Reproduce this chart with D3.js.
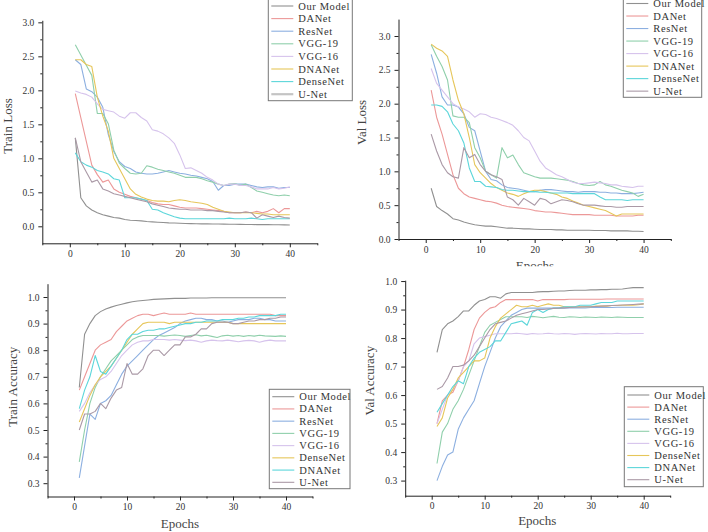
<!DOCTYPE html>
<html><head><meta charset="utf-8">
<script src="https://cdn.jsdelivr.net/npm/d3@7/dist/d3.min.js"></script>
<style>body{margin:0;background:#fff}svg{display:block}text{font-family:"Liberation Serif","DejaVu Serif",serif}</style>
</head><body>
<script>
const epochs = [1,2,3,4,5,6,7,8,9,10,11,12,13,14,15,16,17,18,19,20,21,22,23,24,25,26,27,28,29,30,31,32,33,34,35,36,37,38,39,40];
const xTicks = [0,10,20,30,40];
const xMinorTicks = [-5,5,15,25,35,45];
const lossTicks = [0,0.5,1,1.5,2,2.5,3];
const lossMinor = [0.25,0.75,1.25,1.75,2.25,2.75];
const accTicks = [0.3,0.4,0.5,0.6,0.7,0.8,0.9,1.0];
const accMinor = [0.35,0.45,0.55,0.65,0.75,0.85,0.95];
const lossLegend = ["Our Model","DANet","ResNet","VGG-19","VGG-16","DNANet","DenseNet","U-Net"];
const accLegend = ["Our Model","DANet","ResNet","VGG-19","VGG-16","DenseNet","DNANet","U-Net"];
const colors = ["#909090","#ec9898","#8cafe0","#8fcfab","#d6c3ec","#e6c65a","#5cd6da","#aa99a6"];

// Train loss (order: Our Model, DANet, ResNet, VGG-19, VGG-16, DNANet, DenseNet, U-Net)
const trainLossOurModel = [1.30,0.42,0.30,0.24,0.20,0.17,0.15,0.13,0.12,0.10,0.09,0.085,0.08,0.07,0.065,0.06,0.055,0.05,0.048,0.045,0.042,0.04,0.038,0.036,0.035,0.034,0.033,0.032,0.03,0.03,0.028,0.027,0.026,0.025,0.025,0.024,0.023,0.022,0.021,0.02];
const trainLossDANet = [1.95,1.60,1.25,0.90,0.76,0.65,0.68,0.55,0.50,0.47,0.44,0.42,0.40,0.38,0.35,0.33,0.32,0.32,0.30,0.28,0.27,0.27,0.27,0.26,0.25,0.24,0.23,0.22,0.20,0.20,0.20,0.21,0.20,0.22,0.20,0.22,0.26,0.20,0.26,0.26];
const trainLossResNet = [2.45,2.38,2.02,1.98,1.90,1.75,1.35,1.10,0.95,0.88,0.85,0.80,0.78,0.77,0.77,0.78,0.80,0.82,0.80,0.78,0.77,0.75,0.74,0.72,0.70,0.66,0.53,0.60,0.60,0.62,0.62,0.62,0.60,0.58,0.57,0.58,0.58,0.56,0.57,0.57];
const trainLossVGG19 = [2.67,2.52,2.37,2.22,1.66,1.66,1.51,1.12,0.93,0.85,0.78,0.77,0.78,0.89,0.87,0.84,0.82,0.80,0.78,0.75,0.72,0.72,0.72,0.70,0.67,0.65,0.62,0.60,0.62,0.63,0.60,0.62,0.57,0.52,0.50,0.48,0.46,0.45,0.46,0.45];
const trainLossVGG16 = [1.99,1.96,1.94,1.90,1.80,1.72,1.70,1.68,1.62,1.59,1.67,1.67,1.60,1.55,1.42,1.40,1.36,1.30,1.22,1.05,0.85,0.86,0.82,0.78,0.72,0.68,0.62,0.60,0.62,0.62,0.60,0.60,0.58,0.55,0.55,0.55,0.57,0.55,0.56,0.58];
const trainLossDNANet = [2.45,2.45,2.38,2.35,1.90,1.62,1.40,1.00,0.85,0.70,0.55,0.47,0.43,0.40,0.38,0.37,0.37,0.36,0.38,0.39,0.38,0.36,0.35,0.34,0.32,0.28,0.25,0.22,0.21,0.20,0.20,0.20,0.20,0.19,0.18,0.18,0.17,0.17,0.17,0.17];
const trainLossDenseNet = [1.08,0.95,0.90,0.87,0.82,0.80,0.77,0.70,0.68,0.42,0.42,0.42,0.40,0.38,0.25,0.24,0.20,0.17,0.14,0.12,0.11,0.11,0.11,0.11,0.11,0.11,0.11,0.11,0.12,0.11,0.11,0.11,0.12,0.11,0.10,0.11,0.11,0.11,0.11,0.11];
const trainLossUNet = [1.30,0.95,0.80,0.65,0.68,0.55,0.52,0.48,0.46,0.44,0.42,0.40,0.38,0.36,0.33,0.31,0.29,0.27,0.26,0.25,0.25,0.24,0.24,0.24,0.23,0.23,0.22,0.21,0.20,0.20,0.20,0.21,0.20,0.12,0.17,0.15,0.13,0.15,0.13,0.12];

// Val loss
const valLossOurModel = [0.75,0.48,0.42,0.37,0.30,0.28,0.25,0.23,0.21,0.20,0.19,0.19,0.18,0.17,0.16,0.16,0.155,0.15,0.15,0.145,0.14,0.14,0.14,0.135,0.135,0.13,0.13,0.13,0.13,0.13,0.125,0.125,0.125,0.12,0.12,0.12,0.12,0.115,0.115,0.11];
const valLossDANet = [2.20,1.80,1.55,1.25,0.95,0.75,0.67,0.62,0.60,0.58,0.56,0.55,0.53,0.50,0.48,0.47,0.46,0.45,0.44,0.42,0.41,0.40,0.40,0.39,0.38,0.37,0.36,0.36,0.36,0.36,0.35,0.35,0.35,0.35,0.34,0.34,0.34,0.34,0.35,0.35];
const valLossResNet = [2.73,2.45,2.10,1.98,1.98,1.95,1.85,1.65,1.60,1.30,1.00,0.88,0.86,0.80,0.76,0.75,0.74,0.72,0.70,0.70,0.72,0.73,0.73,0.72,0.71,0.70,0.70,0.69,0.70,0.70,0.70,0.69,0.69,0.68,0.68,0.67,0.67,0.67,0.68,0.69];
const valLossVGG19 = [2.87,2.70,2.55,2.35,1.82,1.80,1.80,1.72,1.35,1.20,1.00,0.95,0.90,1.35,1.20,1.24,1.10,0.98,0.95,0.92,0.90,0.90,0.90,0.89,0.88,0.87,0.85,0.82,0.80,0.79,0.80,0.85,0.80,0.78,0.75,0.72,0.70,0.68,0.63,0.66];
const valLossVGG16 = [2.52,2.30,2.20,2.10,2.00,1.95,1.92,1.88,1.80,1.85,1.84,1.80,1.78,1.75,1.72,1.68,1.60,1.50,1.45,1.30,1.15,1.05,1.00,0.95,0.92,0.88,0.84,0.82,0.82,0.83,0.84,0.83,0.82,0.80,0.80,0.78,0.77,0.76,0.78,0.78];
const valLossDNANet = [2.88,2.82,2.78,2.70,2.35,2.05,1.85,1.50,1.10,0.98,0.90,0.82,0.76,0.72,0.68,0.66,0.63,0.67,0.70,0.72,0.72,0.70,0.68,0.66,0.62,0.60,0.56,0.53,0.50,0.48,0.46,0.44,0.42,0.38,0.34,0.37,0.37,0.37,0.37,0.37];
const valLossDenseNet = [1.98,1.98,1.96,1.88,1.70,1.60,1.42,1.05,0.85,0.85,0.78,0.77,0.76,0.73,0.72,0.72,0.71,0.70,0.70,0.70,0.69,0.69,0.68,0.68,0.68,0.68,0.67,0.67,0.67,0.67,0.67,0.62,0.58,0.58,0.58,0.58,0.57,0.58,0.58,0.58];
const valLossUNet = [1.55,1.30,1.10,0.98,0.92,0.90,1.35,1.20,1.25,1.10,1.00,0.95,0.92,0.88,0.62,0.58,0.50,0.60,0.55,0.50,0.60,0.58,0.52,0.55,0.58,0.57,0.55,0.52,0.50,0.50,0.50,0.49,0.48,0.48,0.47,0.47,0.48,0.48,0.48,0.48];

// Train accuracy (order: Our Model, DANet, ResNet, VGG-19, VGG-16, DenseNet, DNANet, U-Net)
const trainAccOurModel = [0.66,0.86,0.90,0.93,0.945,0.955,0.962,0.968,0.973,0.978,0.982,0.985,0.987,0.989,0.991,0.992,0.993,0.994,0.995,0.995,0.995,0.996,0.996,0.996,0.996,0.997,0.997,0.997,0.997,0.997,0.997,0.997,0.997,0.997,0.997,0.997,0.997,0.997,0.997,0.997];
const trainAccDANet = [0.65,0.70,0.75,0.80,0.82,0.83,0.84,0.87,0.89,0.91,0.92,0.93,0.935,0.935,0.93,0.935,0.94,0.935,0.935,0.935,0.935,0.94,0.935,0.935,0.935,0.935,0.935,0.935,0.935,0.935,0.935,0.935,0.935,0.935,0.935,0.935,0.935,0.93,0.93,0.93];
const trainAccResNet = [0.32,0.44,0.56,0.54,0.60,0.61,0.63,0.67,0.71,0.74,0.76,0.78,0.80,0.82,0.84,0.855,0.865,0.875,0.885,0.90,0.91,0.915,0.92,0.92,0.915,0.915,0.91,0.91,0.905,0.91,0.915,0.915,0.915,0.92,0.92,0.915,0.915,0.91,0.91,0.91];
const trainAccVGG19 = [0.38,0.50,0.60,0.66,0.70,0.73,0.76,0.78,0.80,0.82,0.84,0.85,0.855,0.855,0.855,0.855,0.853,0.855,0.857,0.855,0.852,0.855,0.858,0.854,0.856,0.852,0.848,0.854,0.856,0.853,0.855,0.852,0.855,0.853,0.856,0.854,0.853,0.852,0.854,0.852];
const trainAccVGG16 = [0.57,0.60,0.64,0.67,0.69,0.70,0.72,0.75,0.78,0.80,0.82,0.83,0.835,0.835,0.84,0.84,0.84,0.838,0.84,0.838,0.836,0.838,0.835,0.83,0.835,0.838,0.836,0.835,0.838,0.835,0.832,0.835,0.837,0.835,0.83,0.835,0.838,0.835,0.835,0.835];
const trainAccDenseNet = [0.53,0.58,0.63,0.67,0.70,0.72,0.74,0.77,0.80,0.83,0.86,0.88,0.90,0.905,0.905,0.905,0.905,0.90,0.905,0.905,0.905,0.905,0.905,0.905,0.905,0.905,0.905,0.905,0.905,0.90,0.90,0.90,0.90,0.90,0.90,0.90,0.90,0.90,0.90,0.90];
const trainAccDNANet = [0.58,0.65,0.70,0.78,0.72,0.71,0.74,0.77,0.80,0.84,0.86,0.86,0.87,0.875,0.875,0.88,0.88,0.885,0.89,0.895,0.90,0.90,0.905,0.905,0.91,0.91,0.91,0.915,0.915,0.915,0.92,0.92,0.925,0.925,0.93,0.93,0.93,0.93,0.935,0.935];
const trainAccUNet = [0.50,0.56,0.56,0.57,0.60,0.58,0.62,0.65,0.66,0.75,0.71,0.71,0.73,0.78,0.80,0.80,0.78,0.80,0.82,0.82,0.85,0.85,0.86,0.88,0.88,0.90,0.905,0.905,0.905,0.90,0.90,0.905,0.91,0.91,0.915,0.915,0.92,0.92,0.925,0.925];

// Val accuracy
const valAccOurModel = [0.75,0.83,0.85,0.86,0.875,0.895,0.895,0.915,0.93,0.935,0.945,0.945,0.94,0.955,0.96,0.96,0.96,0.96,0.96,0.962,0.963,0.963,0.964,0.965,0.965,0.967,0.968,0.968,0.968,0.969,0.969,0.97,0.97,0.971,0.971,0.972,0.975,0.977,0.977,0.977];
const valAccDANet = [0.50,0.58,0.60,0.61,0.65,0.70,0.76,0.83,0.87,0.89,0.905,0.91,0.925,0.935,0.935,0.935,0.935,0.935,0.935,0.93,0.935,0.935,0.935,0.935,0.935,0.936,0.936,0.936,0.936,0.936,0.936,0.936,0.937,0.937,0.937,0.937,0.937,0.937,0.937,0.937];
const valAccResNet = [0.30,0.35,0.39,0.40,0.48,0.52,0.55,0.58,0.64,0.70,0.75,0.80,0.84,0.86,0.88,0.89,0.90,0.905,0.905,0.905,0.905,0.905,0.905,0.905,0.905,0.906,0.906,0.906,0.906,0.907,0.907,0.907,0.907,0.907,0.908,0.908,0.908,0.908,0.908,0.908];
const valAccVGG19 = [0.36,0.47,0.50,0.55,0.58,0.62,0.67,0.72,0.77,0.82,0.845,0.855,0.865,0.875,0.875,0.875,0.875,0.872,0.876,0.874,0.871,0.874,0.876,0.873,0.872,0.875,0.874,0.872,0.874,0.873,0.872,0.874,0.873,0.872,0.874,0.873,0.872,0.872,0.872,0.872];
const valAccVGG16 = [0.50,0.55,0.60,0.62,0.65,0.70,0.72,0.78,0.80,0.805,0.81,0.815,0.815,0.815,0.815,0.817,0.815,0.813,0.816,0.814,0.815,0.817,0.815,0.814,0.816,0.815,0.813,0.815,0.816,0.815,0.814,0.816,0.815,0.815,0.817,0.815,0.815,0.816,0.816,0.816];
const valAccDenseNet = [0.49,0.52,0.59,0.62,0.66,0.68,0.70,0.72,0.72,0.73,0.80,0.84,0.87,0.885,0.90,0.915,0.91,0.91,0.915,0.91,0.915,0.92,0.915,0.915,0.91,0.91,0.91,0.91,0.91,0.91,0.912,0.912,0.912,0.914,0.914,0.915,0.915,0.915,0.917,0.92];
const valAccDNANet = [0.54,0.57,0.60,0.63,0.65,0.64,0.70,0.73,0.75,0.76,0.77,0.79,0.79,0.82,0.85,0.855,0.86,0.845,0.89,0.90,0.89,0.90,0.905,0.905,0.91,0.91,0.91,0.915,0.915,0.915,0.92,0.925,0.925,0.925,0.93,0.93,0.93,0.93,0.93,0.93];
const valAccUNet = [0.62,0.63,0.66,0.70,0.70,0.705,0.72,0.74,0.77,0.80,0.83,0.85,0.855,0.86,0.87,0.88,0.885,0.89,0.895,0.90,0.90,0.902,0.904,0.905,0.906,0.907,0.908,0.909,0.91,0.91,0.911,0.912,0.913,0.914,0.915,0.916,0.917,0.918,0.919,0.92];

const panels = [
  {series:[trainLossOurModel,trainLossDANet,trainLossResNet,trainLossVGG19,trainLossVGG16,trainLossDNANet,trainLossDenseNet,trainLossUNet],
   names:lossLegend, xr:[42.3,317.3], yd:[-0.25,3.03], yr:[243.3,20.3], ticks:lossTicks, minor:lossMinor,
   ylabel:"Train Loss", ylx:7, yly:126, xlabel:null, xlx:180, xly:0,
   leg:{x:268.3,y:-1,w:84,h:101.7,row0:6,dy:12.6}, uThick:true},
  {series:[valLossOurModel,valLossDANet,valLossResNet,valLossVGG19,valLossVGG16,valLossDNANet,valLossDenseNet,valLossUNet],
   names:lossLegend, xr:[398.5,670.8], yd:[0,3.25], yr:[239,19.1], ticks:lossTicks, minor:lossMinor,
   ylabel:"Val Loss", ylx:361.5, yly:122.5, xlabel:"Epochs", xlx:535, xly:265.5, clipY:266.3,
   leg:{x:623.3,y:-1,w:78.4,h:98.3,row0:3.5,dy:12.52}},
  {series:[trainAccOurModel,trainAccDANet,trainAccResNet,trainAccVGG19,trainAccVGG16,trainAccDenseNet,trainAccDNANet,trainAccUNet],
   names:accLegend, xr:[47.5,312.5], yd:[0.25,1.05], yr:[496.5,283.7], ticks:accTicks, minor:accMinor,
   ylabel:"Train Accuracy", ylx:12, yly:386.7, xlabel:"Epochs", xlx:180, xly:523.3,
   leg:{x:269.3,y:389.3,w:80.7,h:99.4,row0:396.7,dy:12.23}},
  {series:[valAccOurModel,valAccDANet,valAccResNet,valAccVGG19,valAccVGG16,valAccDenseNet,valAccDNANet,valAccUNet],
   names:accLegend, xr:[405.2,670.2], yd:[0.247,1.003], yr:[495.7,280.2], ticks:accTicks, minor:accMinor,
   ylabel:"Val Accuracy", ylx:369.5, yly:380.7, xlabel:"Epochs", xlx:537.3, xly:520.7,
   leg:{x:624.3,y:386.7,w:79,h:100,row0:395,dy:12.1}}
];

const svg = d3.select("body").append("svg").attr("width",708).attr("height",532);
svg.append("rect").attr("width",708).attr("height",532).attr("fill","#fff");

panels.forEach((p,pi)=>{
  const g = svg.append("g");
  const x = d3.scaleLinear().domain([-5,45]).range(p.xr);
  const y = d3.scaleLinear().domain(p.yd).range(p.yr);
  const axisY0 = p.yr[0];
  const line = d3.line().x((d,i)=>x(epochs[i])).y(d=>y(d));
  p.series.forEach((s,si)=>{
    g.append("path").datum(s).attr("d",line).attr("fill","none")
      .attr("stroke",colors[si]).attr("stroke-width",1.1).attr("stroke-linejoin","round");
  });
  g.append("g").attr("transform",`translate(0,${axisY0})`)
    .call(d3.axisBottom(x).tickValues(xTicks).tickSize(4).tickSizeOuter(0).tickPadding(3).tickFormat(d3.format("d")));
  g.append("g").attr("transform",`translate(0,${axisY0})`)
    .call(d3.axisBottom(x).tickValues(xMinorTicks).tickSize(2).tickSizeOuter(0).tickFormat(""))
    .select(".domain").remove();
  g.append("g").attr("transform",`translate(${p.xr[0]},0)`)
    .call(d3.axisLeft(y).tickValues(p.ticks).tickSize(4).tickSizeOuter(0).tickPadding(4).tickFormat(d3.format(".1f")));
  g.append("g").attr("transform",`translate(${p.xr[0]},0)`)
    .call(d3.axisLeft(y).tickValues(p.minor).tickSize(2).tickSizeOuter(0).tickFormat(""))
    .select(".domain").remove();
  g.selectAll(".domain").attr("stroke","#222");
  g.selectAll(".tick line").attr("stroke","#222");
  g.selectAll(".tick text").attr("font-family","Liberation Serif").attr("font-size",9.5).attr("fill","#333");
  g.append("text").attr("transform",`translate(${p.ylx},${p.yly}) rotate(-90)`)
    .attr("text-anchor","middle").attr("dominant-baseline","central")
    .attr("font-size",13).attr("fill","#444").text(p.ylabel);
  if (p.xlabel){
    const t = g.append("text").attr("x",p.xlx).attr("y",p.xly).attr("text-anchor","middle")
      .attr("dominant-baseline","central").attr("font-size",13).attr("fill","#444").text(p.xlabel);
    if (p.clipY){
      svg.append("clipPath").attr("id","clip"+pi).append("rect").attr("x",0).attr("y",0).attr("width",708).attr("height",p.clipY);
      t.attr("clip-path",`url(#clip${pi})`);
    }
  }
  const L = p.leg;
  const lg = g.append("g");
  lg.append("rect").attr("x",L.x).attr("y",L.y).attr("width",L.w).attr("height",L.h)
    .attr("fill","#fff").attr("stroke","#777").attr("stroke-width",1);
  p.names.forEach((n,i)=>{
    const yy = L.row0 + i*L.dy;
    lg.append("line").attr("x1",L.x+3).attr("x2",L.x+25).attr("y1",yy).attr("y2",yy)
      .attr("stroke", (p.uThick && i===7) ? "#c4c4c4" : colors[i])
      .attr("stroke-width",(p.uThick && i===7) ? 2.2 : 1.1);
    lg.append("text").attr("x",L.x+30).attr("y",yy).attr("dominant-baseline","central")
      .attr("font-size",10.5).attr("letter-spacing",0.6).attr("fill","#333").text(n);
  });
});
</script>
</body></html>
